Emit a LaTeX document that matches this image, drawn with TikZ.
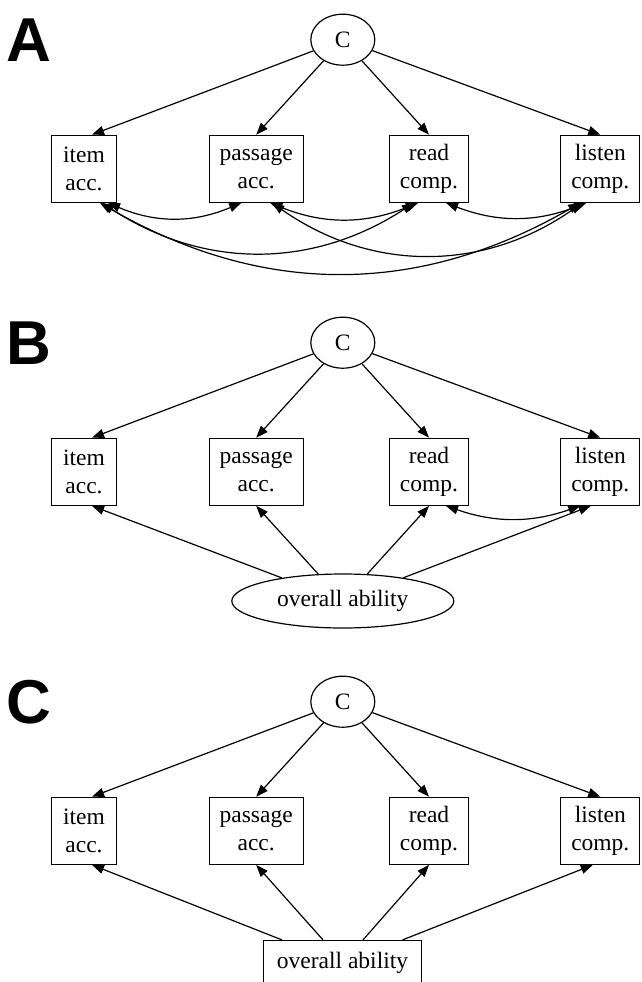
\documentclass[tikz,border=0pt]{standalone}
\usepackage{fontspec}
\setmainfont{Liberation Serif}
\newfontfamily\panelfont{Liberation Sans}
\usetikzlibrary{arrows.meta}
\usetikzlibrary{shapes.geometric}

\tikzset{
  >={Triangle[length=12pt,width=9pt]},
  obs/.style={draw, line width=1.2pt, align=center, minimum width=65pt, minimum height=67pt,
    inner xsep=10.5pt, inner ysep=0pt, font=\fontsize{23.5}{28.3}\selectfont},
  lat/.style={draw, ellipse, line width=1.2pt, inner sep=0pt, font=\fontsize{23.5}{28.3}\selectfont},
  reg/.style={->, line width=1.2pt},
  cov/.style={<->, line width=1.2pt},
  panellabel/.style={anchor=base west, inner sep=0pt, font=\panelfont\bfseries\fontsize{62}{62}\selectfont}
}

\begin{document}
\begin{tikzpicture}[x=1pt,y=1pt]
\useasboundingbox (0,0) rectangle (641,-982);
\clip (0,0) rectangle (641,-982);
% the same top part in every panel
\foreach \p/\dy in {A/0,B/303,C/662} {
 \begin{scope}[yshift=-\dy]
 \node[panellabel] (lab\p) at (6,-61.7) {\p};
 \node[lat, minimum width=64pt, minimum height=51pt] (c\p) at (342.8,-39.7) {C};
 \node[obs] (item\p) at (84,-168.8) {item\\acc.};
 \node[obs] (pass\p) at (256.2,-168.8) {passage\\acc.};
 \node[obs] (read\p) at (429,-168.8) {read\\comp.};
 \node[obs] (list\p) at (600.3,-168.8) {listen\\comp.};
 \draw[reg] (c\p) -- ([xshift=8]item\p.north);
 \draw[reg] (c\p) -- (pass\p.north);
 \draw[reg] (c\p) -- (read\p.north);
 \draw[reg] (c\p) -- (list\p.north);
 \end{scope}
}
% A: residual covariances
\draw[cov] ([xshift=24]itemA.south) to[bend right=23] ([xshift=-15]passA.south);
\draw[cov] ([xshift=14]passA.south) to[bend right=22] ([xshift=-11]readA.south);
\draw[cov] ([xshift=17]readA.south) to[bend right=21] ([xshift=-14]listA.south);
\draw[cov] ([xshift=18]itemA.south) to[bend right=33] ([xshift=-15]readA.south);
\draw[cov] ([xshift=16]passA.south) to[bend right=35] ([xshift=-18]listA.south);
\draw[cov] ([xshift=16]itemA.south) to[bend right=30] ([xshift=-20]listA.south);
% B: latent ability
\node[lat, minimum width=222pt, minimum height=54pt] (abilB) at (342.8,-601) {overall ability};
\draw[reg] (abilB) -- ([xshift=8]itemB.south);
\draw[reg] (abilB) -- (passB.south);
\draw[reg] (abilB) -- (readB.south);
\draw[reg] (abilB) -- ([xshift=-9.5]listB.south);
\draw[cov] ([xshift=17]readB.south) to[bend right=19] ([xshift=-20]listB.south);
% C: observed ability
\node[obs, minimum width=157.4pt, minimum height=44pt] (abilC) at (342.5,-962.5) {overall ability};
\draw[reg] ([xshift=-60.5]abilC.north) -- ([xshift=8]itemC.south);
\draw[reg] ([xshift=-19.5]abilC.north) -- (passC.south);
\draw[reg] ([xshift=20.5]abilC.north) -- (readC.south);
\draw[reg] ([xshift=60]abilC.north) -- ([xshift=-7.5]listC.south);
\end{tikzpicture}
\end{document}
